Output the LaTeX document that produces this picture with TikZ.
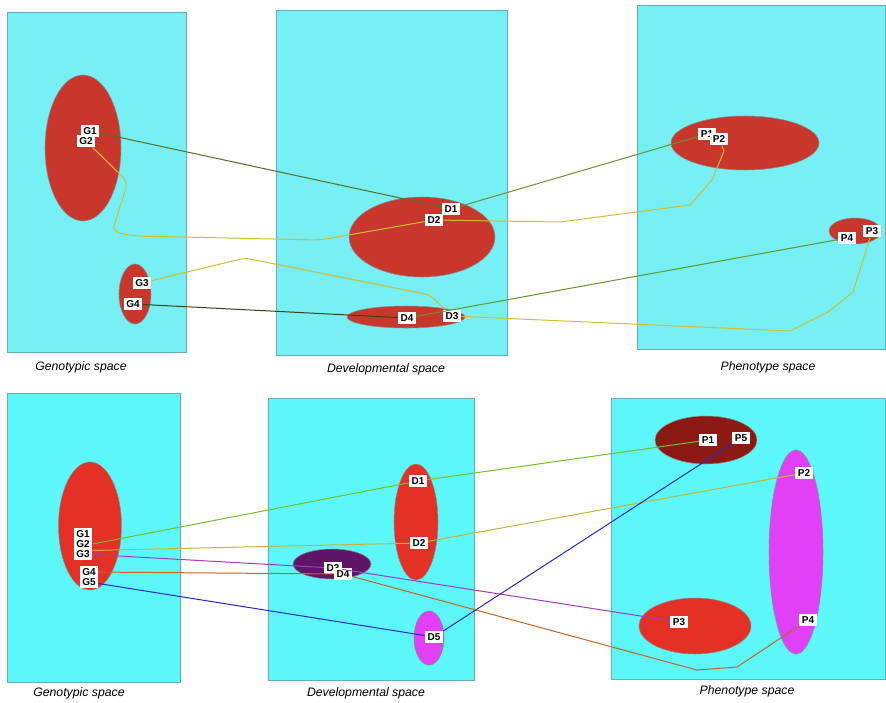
\documentclass[tikz,border=0pt]{standalone}
\usepackage{fontspec}
\setmainfont{Liberation Sans}
\usepackage{xcolor}
\usepackage{tikz}
\usetikzlibrary{shapes, arrows}

\definecolor{cyanTop}{RGB}{118,239,245}
\definecolor{cyanBot}{RGB}{92,247,249}
\definecolor{spaceEdge}{RGB}{100,175,190}
\definecolor{redTop}{RGB}{201,55,44}
\definecolor{redBot}{RGB}{229,48,38}
\definecolor{redDark}{RGB}{140,26,20}
\definecolor{purpleDark}{RGB}{96,22,104}
\definecolor{magentaBlob}{RGB}{226,64,246}
\definecolor{lineOlive}{RGB}{85,110,40}
\definecolor{lineGreen}{RGB}{100,150,45}
\definecolor{lineYellow}{RGB}{210,190,50}
\definecolor{lineDark}{RGB}{55,65,20}
\definecolor{lineLime}{RGB}{120,190,40}
\definecolor{lineGold}{RGB}{200,180,60}
\definecolor{linePurple}{RGB}{165,60,185}
\definecolor{lineOrange}{RGB}{200,100,40}
\definecolor{lineBlue}{RGB}{40,40,200}

\tikzset{
  space/.style={draw=spaceEdge, line width=0.5pt},
  blob/.style={ellipse, draw=black!45, line width=0.4pt, inner sep=0pt},
  tag/.style={fill=white, inner sep=2pt, font=\bfseries\fontsize{7.5}{8}\selectfont},
  caption/.style={font=\itshape\fontsize{9.2}{11}\selectfont},
  link/.style={line width=0.75pt}
}

\begin{document}
\begin{tikzpicture}[x=0.75pt,y=0.75pt,yscale=-1,xscale=1]
\useasboundingbox (0,0) rectangle (886,703);

%Shape: Rectangle [top row]
\draw [space, fill=cyanTop] (7,12) rectangle (186,352);
\draw [space, fill=cyanTop] (276,10) rectangle (507,355);
\draw [space, fill=cyanTop] (637,5) rectangle (885,349);
%Shape: Rectangle [bottom row]
\draw [space, fill=cyanBot] (7,393) rectangle (180,682);
\draw [space, fill=cyanBot] (268,398) rectangle (474,680);
\draw [space, fill=cyanBot] (611,398) rectangle (885,679);

%Shape: Ellipse [top row]
\node [blob, fill=redTop, minimum width=57pt, minimum height=109.5pt] (gA) at (83,148) {};
\node [blob, fill=redTop, minimum width=24pt, minimum height=45pt] (gB) at (135,294) {};
\node [blob, fill=redTop, minimum width=109.5pt, minimum height=60pt] (dA) at (422,237) {};
\node [blob, fill=redTop, minimum width=88.5pt, minimum height=16.5pt] (dB) at (406,317) {};
\node [blob, fill=redTop, minimum width=111pt, minimum height=40.5pt] (pA) at (745,143) {};
\node [blob, fill=redTop, minimum width=39pt, minimum height=19.5pt] (pB) at (855,231) {};
%Shape: Ellipse [bottom row]
\node [blob, fill=redBot, minimum width=47.25pt, minimum height=96pt] (gC) at (90,526) {};
\node [blob, fill=redBot, minimum width=33pt, minimum height=87pt] (dC) at (416,522) {};
\node [blob, fill=purpleDark, minimum width=58.5pt, minimum height=22.5pt] (dD) at (332,564) {};
\node [blob, fill=magentaBlob, minimum width=22.5pt, minimum height=40.5pt] (dE) at (429,638) {};
\node [blob, fill=redDark, minimum width=76.5pt, minimum height=36pt] (pC) at (706,440) {};
\node [blob, fill=magentaBlob, minimum width=40.5pt, minimum height=153pt] (pD) at (796,552) {};
\node [blob, fill=redBot, minimum width=84pt, minimum height=42pt] (pE) at (695,626) {};

% Text Node [top row tags]
\node [tag] (g1) at (90,131) {G1};
\node [tag] (g2) at (86,141) {G2};
\node [tag] (g3) at (142,283) {G3};
\node [tag] (g4) at (133,304) {G4};
\node [tag] (d1) at (451,209) {D1};
\node [tag] (d2) at (434,220) {D2};
\node [tag] (d3) at (452,316) {D3};
\node [tag] (d4) at (407,318) {D4};
\node [tag] (p1) at (707,134) {P1};
\node [tag] (p2) at (719,139) {P2};
\node [tag] (p3) at (872,231) {P3};
\node [tag] (p4) at (847,238) {P4};

% Text Node [bottom row tags]
\node [tag] (g1b) at (83,534) {G1};
\node [tag] (g2b) at (83,544) {G2};
\node [tag] (g3b) at (83,554) {G3};
\node [tag] (g4b) at (89,572) {G4};
\node [tag] (g5b) at (89,582) {G5};
\node [tag] (d1b) at (418,481) {D1};
\node [tag] (d2b) at (419,543) {D2};
\node [tag] (d3b) at (333,568) {D3};
\node [tag] (d4b) at (343,574) {D4};
\node [tag] (d5b) at (434,637) {D5};
\node [tag] (p1b) at (708,440) {P1};
\node [tag] (p5b) at (741,438) {P5};
\node [tag] (p2b) at (804,473) {P2};
\node [tag] (p3b) at (679,622) {P3};
\node [tag] (p4b) at (808,620) {P4};

%Straight Lines [top row]
\draw [link, lineOlive] (g1) -- (d1);
\draw [link, lineGreen] (d1) -- (p1);
\draw [link, lineYellow, rounded corners=6] (g2) -- (128,182) -- (112,232) -- (135,236) -- (320,240) -- (d2);
\draw [link, lineYellow] (d2) -- (560,222) -- (690,205) -- (712,180) -- (724,151) -- (p2);
\draw [link, lineYellow, rounded corners=4] (g3) -- (245,258) -- (265,262) -- (430,295) -- (d3);
\draw [link, lineYellow] (d3) -- (790,331) -- (828,312) -- (853,292) -- (p3);
\draw [link, lineDark] (g4) -- (d4);
\draw [link, lineGreen] (d4) -- (p4);

%Straight Lines [bottom row]
\draw [link, lineLime] (g2b.east) -- (d1b);
\draw [link, lineLime] (d1b) -- (p1b);
\draw [link, lineGold] (g2b.south east) -- (d2b);
\draw [link, lineGold] (d2b) -- (p2b);
\draw [link, linePurple] (g3b) -- (d3b);
\draw [link, linePurple] (d3b) -- (p3b);
\draw [link, lineOrange] (g4b) -- (d4b);
\draw [link, lineOrange] (d4b) -- (697,670) -- (737,667) -- (p4b);
\draw [link, lineBlue] (g5b) -- (d5b);
\draw [link, lineBlue] (d5b) -- (p5b);

% Text Node [captions]
\node [caption] (capG) at (81,367) {Genotypic space};
\node [caption] (capD) at (386,369) {Developmental space};
\node [caption] (capP) at (768,367) {Phenotype space};
\node [caption] (capGb) at (79,693) {Genotypic space};
\node [caption] (capDb) at (366,693) {Developmental space};
\node [caption] (capPb) at (747,691) {Phenotype space};

\end{tikzpicture}
\end{document}
